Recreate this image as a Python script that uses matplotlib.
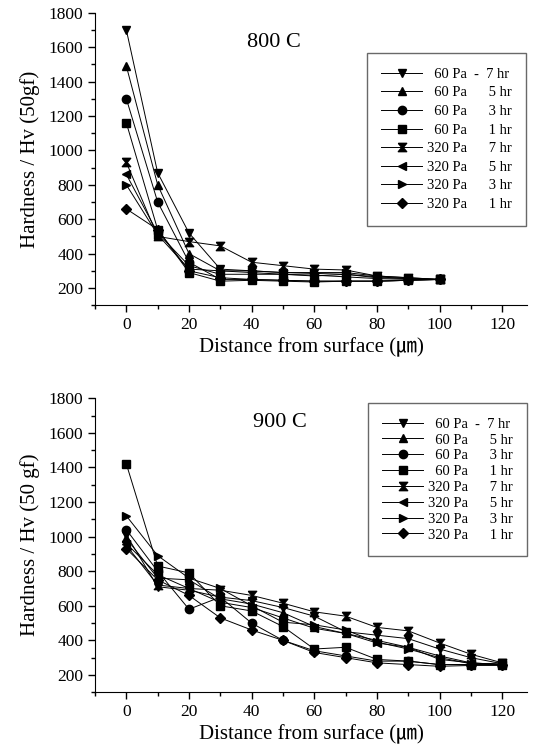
import matplotlib
matplotlib.use("Agg")
import matplotlib.pyplot as plt
from matplotlib.ticker import MultipleLocator

plt.rcParams['font.family'] = ['Liberation Serif', 'Noto Sans CJK JP', 'DejaVu Sans']

# depth positions (um)
depth_800 = [0, 10, 20, 30, 40, 50, 60, 70, 80, 90, 100]
depth_900 = [0, 10, 20, 30, 40, 50, 60, 70, 80, 90, 100, 110, 120]

labels = ["  60 Pa  -  7 hr", "  60 Pa      5 hr", "  60 Pa      3 hr", "  60 Pa      1 hr",
          "320 Pa      7 hr", "320 Pa      5 hr", "320 Pa      3 hr", "320 Pa      1 hr"]

# hourglass marker for the 320 Pa 7 hr series
hourglass = [(-1, 1), (1, 1), (0.15, 0), (1, -1), (-1, -1), (-0.15, 0), (-1, 1)]
markers = ['v', '^', 'o', 's', hourglass, '<', '>', 'D']
msizes = [6, 6, 6, 6, 6, 6, 6, 4.8]

# hardness values
hv_800 = [
    [1700, 870, 520, 310, 300, 290, 285, 280, 265, 255, 250],   # 60 Pa 7 hr
    [1490, 800, 400, 300, 290, 280, 275, 265, 255, 250, 250],   # 60 Pa 5 hr
    [1300, 700, 350, 250, 250, 245, 240, 240, 240, 245, 250],   # 60 Pa 3 hr
    [1160, 540, 290, 240, 245, 240, 235, 240, 240, 245, 250],   # 60 Pa 1 hr
    [930, 500, 470, 445, 350, 330, 310, 305, 270, 260, 250],    # 320 Pa 7 hr
    [860, 520, 330, 280, 280, 280, 270, 280, 260, 255, 250],    # 320 Pa 5 hr
    [800, 510, 310, 300, 300, 290, 290, 290, 270, 260, 250],    # 320 Pa 3 hr
    [660, 540, 300, 260, 250, 245, 240, 240, 240, 245, 250],    # 320 Pa 1 hr
]

# hardness values
hv_900 = [
    [1010, 710, 690, 650, 630, 590, 540, 450, 430, 410, 350, 300, 265],   # 60 Pa 7 hr
    [990, 760, 750, 640, 610, 560, 480, 440, 400, 360, 310, 270, 260],    # 60 Pa 5 hr
    [1040, 800, 580, 650, 500, 400, 340, 310, 280, 280, 260, 260, 260],   # 60 Pa 3 hr
    [1420, 830, 790, 600, 570, 480, 350, 360, 290, 280, 260, 260, 270],   # 60 Pa 1 hr
    [950, 720, 700, 690, 660, 615, 565, 540, 475, 455, 385, 320, 270],    # 320 Pa 7 hr
    [960, 780, 700, 620, 590, 530, 470, 440, 385, 360, 290, 270, 260],    # 320 Pa 5 hr
    [1120, 890, 760, 700, 600, 505, 490, 460, 390, 350, 300, 265, 260],   # 320 Pa 3 hr
    [930, 750, 660, 530, 460, 400, 330, 300, 270, 260, 250, 255, 255],    # 320 Pa 1 hr
]

fig = plt.figure(figsize=(5.43, 7.5), dpi=100)


def draw_panel(ax, x, series, title, title_xy, legend_anchor, spacing):
    for vals, m, s, lab in zip(series, markers, msizes, labels):
        ax.plot(x, vals, color='black', lw=0.7, marker=m, ms=s,
                mfc='black', mec='black', label=lab)
    ax.set_xlim(-10, 128)
    ax.set_ylim(100, 1800)
    ax.xaxis.set_minor_locator(MultipleLocator(10))
    ax.yaxis.set_minor_locator(MultipleLocator(100))
    ax.set_yticks(range(200, 1801, 200))
    ax.set_xticks(range(0, 121, 20))
    ax.spines['top'].set_visible(False)
    ax.spines['right'].set_visible(False)
    ax.tick_params(which='both', direction='out', labelsize=12.5, width=1)
    ax.tick_params(which='major', length=5)
    ax.tick_params(which='minor', length=3)
    ax.set_xlabel("Distance from surface (\u339b)", fontsize=15, labelpad=3)
    ax.text(title_xy[0], title_xy[1], title, fontsize=16, ha='center', va='center')
    leg = ax.legend(loc='upper right', bbox_to_anchor=legend_anchor,
                    bbox_transform=fig.transFigure, borderaxespad=0,
                    fontsize=10.5, frameon=True, fancybox=False,
                    handlelength=2.8, handletextpad=0.3,
                    labelspacing=spacing, borderpad=1.0)
    leg.get_frame().set_edgecolor('#444444')
    leg.get_frame().set_linewidth(1.0)


ax1 = fig.add_axes([0.175, 0.593, 0.796, 0.390])
draw_panel(ax1, depth_800, hv_800, "800 C", (47, 1625), (0.9687, 0.9293), 0.37)
ax1.set_ylabel("Hardness / Hv (50gf)", fontsize=15, labelpad=6)

ax2 = fig.add_axes([0.175, 0.077, 0.796, 0.392])
draw_panel(ax2, depth_900, hv_900, "900 C", (49, 1661), (0.9705, 0.4627), 0.18)
ax2.set_ylabel("Hardness / Hv (50 gf)", fontsize=15, labelpad=6)

fig.savefig("out.png", dpi=100)
